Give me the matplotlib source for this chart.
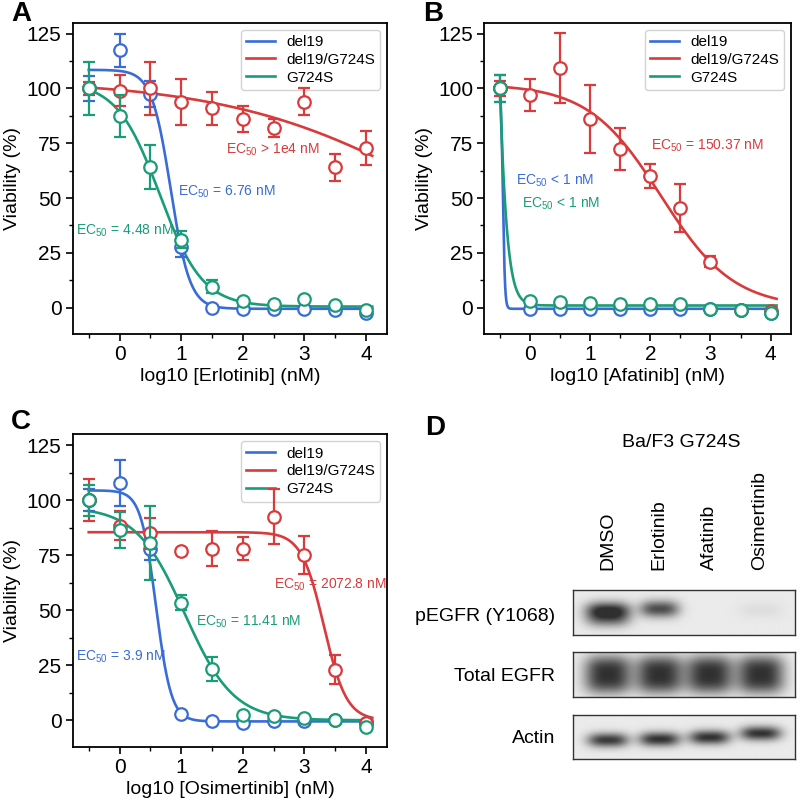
import numpy as np
import matplotlib
matplotlib.use("Agg")
import matplotlib.pyplot as plt
from matplotlib.ticker import MultipleLocator

plt.rcParams['font.family'] = ['Liberation Sans', 'DejaVu Sans']
plt.rcParams['mathtext.fontset'] = 'custom'
plt.rcParams['mathtext.rm'] = 'Liberation Sans'
plt.rcParams['mathtext.it'] = 'Liberation Sans'

# ---------------- data ----------------
log_conc = [-0.5, 0, 0.5, 1, 1.5, 2, 2.5, 3, 3.5, 4]
series_names = ["del19", "del19/G724S", "G724S"]

# Panel A (Erlotinib)
a_del19 = [100, 117.5, 97.5, 27.5, 0, -0.5, -0.5, -0.5, -1, -2.5]
a_del19_err = [5.5, 7.5, 6, 4.5, 0.8, 0.5, 0.5, 0.5, 0.5, 0.8]
a_dg = [100, 99, 100, 94, 91, 86, 82, 94, 64, 73]
a_dg_err = [3, 7, 12, 10.5, 7.5, 6, 4, 6.3, 6, 7.8]
a_g = [100, 87.5, 64, 31, 9.5, 3, 1.5, 4, 1, -1]
a_g_err = [12, 9.5, 10, 4, 3, 1, 0.8, 1, 0.8, 0.8]
# fit params: top, bottom, logEC50, hill
a_fit = [(108.5, -0.5, 0.83, 2.8), (104, 0, 5.3, 0.25), (103, 0.5, 0.651, 1.25)]

# Panel B (Afatinib)
b_del19 = [100, -0.5, -0.5, -0.5, -0.5, -0.5, -0.5, -0.5, -1, -2.5]
b_del19_err = [6, 0.5, 0.5, 0.5, 0.5, 0.5, 0.5, 0.5, 0.5, 0.5]
b_dg = [100, 97, 109.5, 86, 72.5, 60, 45.5, 21, -1, -1.5]
b_dg_err = [3.5, 7.3, 16, 15.6, 9.6, 5.5, 11, 2.5, 0.5, 0.5]
b_g = [100, 3, 2.5, 2, 1.5, 1.5, 1.5, -0.5, -1, -2.5]
b_g_err = [6.3, 0.5, 0.5, 0.5, 0.5, 0.5, 0.5, 0.5, 0.5, 0.5]
b_fit = [(105, -0.5, -0.452, 25), (102, 0, 2.177, 0.72), (490, 1, -0.634, 4.47)]

# Panel C (Osimertinib)
c_del19 = [100, 108, 78, 3, -0.5, -1, -0.5, -0.5, 0, -1]
c_del19_err = [5, 10.5, 5, 1, 0.5, 0.5, 0.5, 0.5, 0.5, 0.5]
c_dg = [100, 88.5, 85, 77, 78, 78, 92.5, 75, 23, -1]
c_dg_err = [9.5, 6.5, 7, 0.5, 8, 5.3, 12.5, 8.7, 6.5, 0.5]
c_g = [100, 86.5, 80.5, 53.5, 23.5, 2.5, 2, 1, 0, -3]
c_g_err = [7, 8, 16.7, 3.5, 5.5, 0.5, 0.5, 0.5, 0.5, 0.5]
c_fit = [(104.5, -0.5, 0.591, 3.5), (85.5, 0, 3.3165, 2.37), (97, 0, 1.057, 1.1)]

a_ec50 = ["EC$_{50}$ = 6.76 nM", "EC$_{50}$ > 1e4 nM", "EC$_{50}$ = 4.48 nM"]
b_ec50 = ["EC$_{50}$ < 1 nM", "EC$_{50}$ = 150.37 nM", "EC$_{50}$ < 1 nM"]
c_ec50 = ["EC$_{50}$ = 3.9 nM", "EC$_{50}$ = 2072.8 nM", "EC$_{50}$ = 11.41 nM"]

# Panel D (western blot)
lanes = ["DMSO", "Erlotinib", "Afatinib", "Osimertinib"]
blot_rows = ["pEGFR (Y1068)", "Total EGFR", "Actin"]
pegfr_signal = [1.0, 0.85, 0.0, 0.07]
total_egfr_signal = [1.0, 1.0, 1.0, 1.0]
actin_signal = [0.95, 1.0, 1.0, 1.0]

# ---------------- style ----------------
colors = ["#3a6cd6", "#d93a3c", "#1a9c78"]
fig = plt.figure(figsize=(8, 8.05), dpi=100)


def logistic(x, top, bottom, logec, hill):
    return bottom + (top - bottom) / (1 + 10 ** ((x - logec) * hill))


def panel(rect, series, errs, fits, texts, text_pos, xlabel, letter, letter_xy):
    ax = fig.add_axes(rect)
    xs = np.linspace(-0.5, 4.1, 3000)
    handles = []
    for i in [0, 1, 2]:
        top, bot, lc, h = fits[i]
        ln, = ax.plot(xs, logistic(xs, top, bot, lc, h), color=colors[i], lw=1.9,
                      zorder=2 + i, label=series_names[i])
        handles.append(ln)
    for i in [0, 1, 2]:
        ax.errorbar(log_conc, series[i], yerr=errs[i], fmt='o', color=colors[i],
                    mfc='white', mec=colors[i], ms=9, mew=1.6, elinewidth=1.6,
                    capsize=4, capthick=1.6, zorder=5 + i)
    for i in [0, 1, 2]:
        ax.text(text_pos[i][0], text_pos[i][1], texts[i], color=colors[i],
                fontsize=10, va='center', ha='left', zorder=10)
    ax.set_xlim(-0.76, 4.34)
    ax.set_ylim(-12, 130)
    ax.set_xticks([0, 1, 2, 3, 4])
    ax.xaxis.set_minor_locator(MultipleLocator(0.5))
    ax.set_yticks([0, 25, 50, 75, 100, 125])
    ax.yaxis.set_minor_locator(MultipleLocator(12.5))
    ax.tick_params(which='major', direction='out', length=5, width=1.2, labelsize=15, pad=3)
    ax.tick_params(which='minor', direction='out', length=3, width=1.0)
    for s in ax.spines.values():
        s.set_linewidth(1.3)
    ax.set_xlabel(xlabel, fontsize=14, labelpad=3)
    ax.set_ylabel("Viability (%)", fontsize=14, labelpad=4)
    leg = ax.legend(handles=handles, loc='upper right', fontsize=11, frameon=True,
                    fancybox=True, edgecolor='#c8c8c8', handlelength=1.9,
                    handletextpad=0.7, borderaxespad=0.45, labelspacing=0.25,
                    borderpad=0.35)
    leg.get_frame().set_linewidth(1.0)
    fig.text(letter_xy[0], letter_xy[1], letter, fontsize=20, fontweight='bold',
             ha='center', va='center')
    return ax


panel([0.0909, 0.5851, 0.3929, 0.3867], [a_del19, a_dg, a_g],
      [a_del19_err, a_dg_err, a_g_err], a_fit, a_ec50,
      [(0.95, 53), (1.73, 72), (-0.70, 35)], "log10 [Erlotinib] (nM)", "A", (0.027, 0.982))
panel([0.6054, 0.5851, 0.3834, 0.3867], [b_del19, b_dg, b_g],
      [b_del19_err, b_dg_err, b_g_err], b_fit, b_ec50,
      [(-0.23, 58), (2.01, 74), (-0.13, 47.5)], "log10 [Afatinib] (nM)", "B", (0.542, 0.982))
panel([0.0909, 0.0724, 0.3929, 0.3881], [c_del19, c_dg, c_g],
      [c_del19_err, c_dg_err, c_g_err], c_fit, c_ec50,
      [(-0.70, 29), (2.50, 61.7), (1.24, 45)], "log10 [Osimertinib] (nM)", "C", (0.026, 0.476))

# ---------------- panel D: western blot ----------------
fig.text(0.544, 0.468, "D", fontsize=20, fontweight='bold', ha='center', va='center')
fig.text(0.852, 0.4497, "Ba/F3 G724S", fontsize=14, ha='center', va='center')
lane_x_px = [607.5, 659, 709, 760]
for name, lx in zip(lanes, lane_x_px):
    fig.text(lx / 800, 0.2919, name, rotation=90, fontsize=14, ha='center', va='bottom')

box_left, box_w = 572.7 / 800, 222.3 / 800
boxes = [(0.2112, 0.0559), (0.1345, 0.0555), (0.0571, 0.0547)]
label_y = [0.2339, 0.1594, 0.0832]
lane_frac = [(lx - 572.7) / 222.3 for lx in lane_x_px]

W, H = 440, 90
gx = np.linspace(0, 1, W)[None, :]
gy = np.linspace(0, 1, H)[:, None]


def band(cx, cy, hw, hh, amp, py=2.0):
    return (amp * np.exp(-np.abs((gx - cx) / hw) ** 3)
            * np.exp(-np.abs((gy - cy) / hh) ** py))


# (signal, band centre y, half width, half height, vertical shape power)
row_specs = [
    (pegfr_signal, [0.45, 0.42, 0.45, 0.45], 0.10, 0.19, 2.0),
    (total_egfr_signal, [0.5, 0.5, 0.5, 0.5], 0.105, 0.42, 3.0),
    (actin_signal, [0.58, 0.56, 0.52, 0.43], 0.092, 0.16, 2.0),
]
for r, ((bot, h), ly, name) in enumerate(zip(boxes, label_y, blot_rows)):
    axb = fig.add_axes([box_left, bot, box_w, h])
    sig, cys, hw, hh, py = row_specs[r]
    dark = np.zeros((H, W))
    for j in range(4):
        w = hw * (0.88 if (r == 0 and j == 1) else 1.0)
        dark += band(lane_frac[j], cys[j], w, hh, sig[j], py)
        if r == 0 and j == 0:
            dark += band(lane_frac[j], 0.66, hw, 0.18, 0.55 * sig[j])
    dark = np.clip(dark, 0, 1)
    img = 0.92 - 0.73 * dark
    axb.imshow(img, cmap='gray', vmin=0, vmax=1, aspect='auto',
               extent=[0, 1, 1, 0], interpolation='bilinear')
    axb.set_xticks([])
    axb.set_yticks([])
    for s in axb.spines.values():
        s.set_linewidth(1.0)
        s.set_color('#333333')
    fig.text(0.694, ly, name, fontsize=14, ha='right', va='center')

fig.savefig("out.png", dpi=100)
